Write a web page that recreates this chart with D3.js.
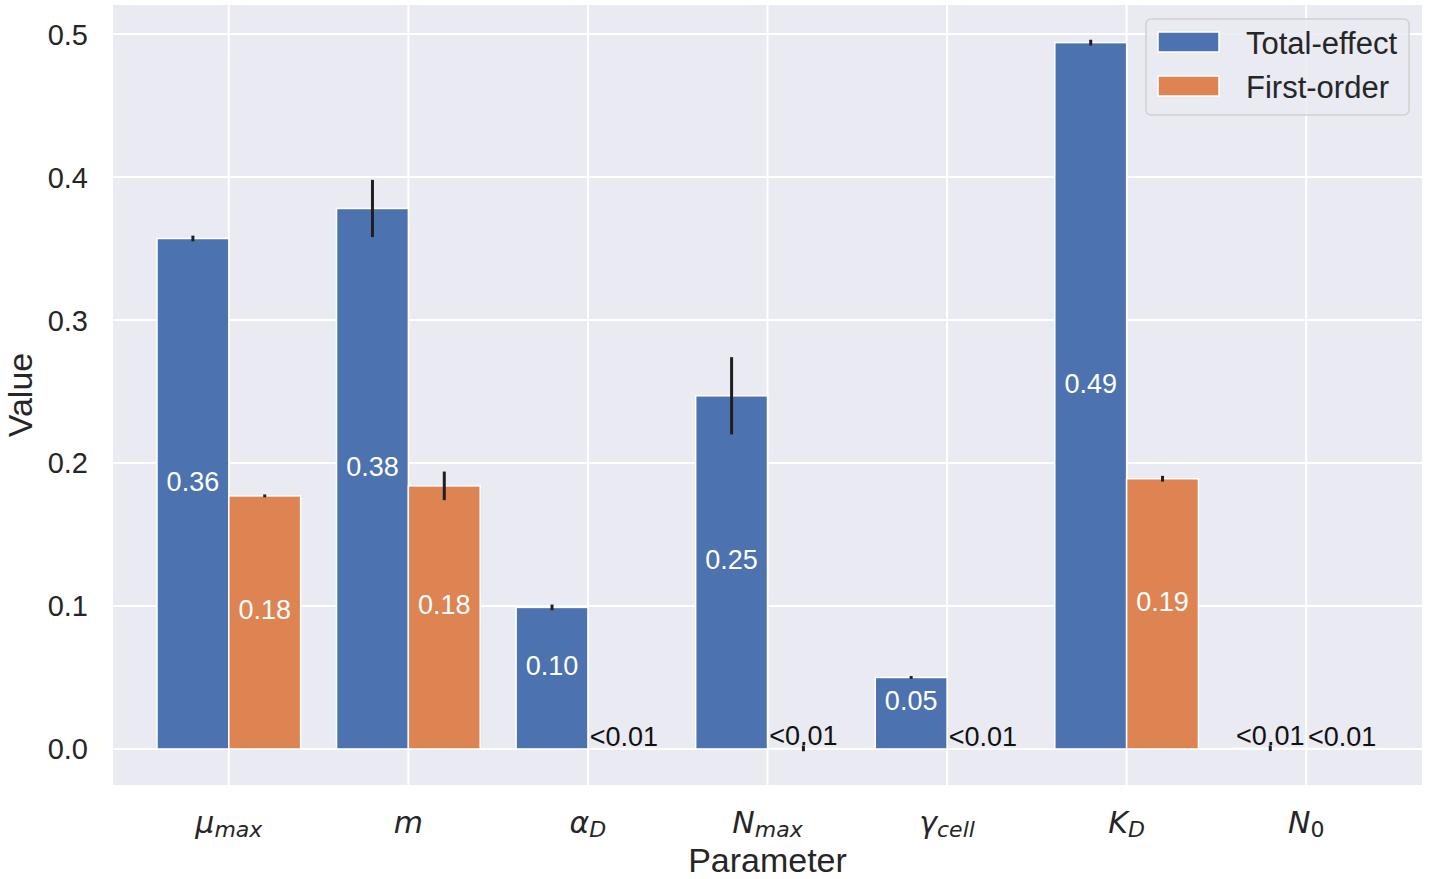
<!DOCTYPE html>
<html>
<head>
<meta charset="utf-8">
<script src="https://cdn.jsdelivr.net/npm/d3@7"></script>
<style>
  body { margin: 0; background: #fff; }
  svg text { font-family: "Liberation Sans", Arial, sans-serif; }
  .math { font-family: "DejaVu Sans", sans-serif; font-style: italic; }
</style>
</head>
<body>
<div id="chart"></div>
<script>
// parameter labels: main symbol + subscript
const params = [
  { main: "μ", sub: "max" },
  { main: "m", sub: "" },
  { main: "α", sub: "D" },
  { main: "N", sub: "max" },
  { main: "γ", sub: "cell" },
  { main: "K", sub: "D" },
  { main: "N", sub: "0", upright: true },
];
const totalEffect = [0.357, 0.378, 0.099, 0.247, 0.050, 0.494, 0.0005];
const totalErr = [0.002, 0.020, 0.002, 0.027, 0.001, 0.002, 0.002];
const firstOrder = [0.177, 0.184, 0.0003, 0.0004, 0.0002, 0.189, 0.0003];
const firstErr = [0.001, 0.010, 0, 0.002, 0, 0.002, 0];
const yTicks = [0, 0.1, 0.2, 0.3, 0.4, 0.5];
const seriesNames = ["Total-effect", "First-order"];
const colors = ["#4C72B0", "#DD8452"];

const W = 1429, H = 879;
const plot = { left: 113, right: 1422, top: 5, bottom: 785 };
const barW = 0.4;

const svg = d3.select("#chart").append("svg")
  .attr("width", W).attr("height", H);

const x = d3.scaleLinear().domain([-0.645, 6.645]).range([plot.left, plot.right]);
const y = d3.scaleLinear().domain([-0.0252, 0.5203]).range([plot.bottom, plot.top]);

// background
svg.append("rect")
  .attr("x", plot.left).attr("y", plot.top)
  .attr("width", plot.right - plot.left).attr("height", plot.bottom - plot.top)
  .attr("fill", "#EAEAF2");

// grid
svg.append("g").selectAll("line").data(yTicks).join("line")
  .attr("x1", plot.left).attr("x2", plot.right)
  .attr("y1", (d) => y(d)).attr("y2", (d) => y(d))
  .attr("stroke", "#fff").attr("stroke-width", 2);
svg.append("g").selectAll("line").data(params).join("line")
  .attr("x1", (d, i) => x(i)).attr("x2", (d, i) => x(i))
  .attr("y1", plot.top).attr("y2", plot.bottom)
  .attr("stroke", "#fff").attr("stroke-width", 2);

// y tick labels
svg.append("g").selectAll("text").data(yTicks).join("text")
  .attr("x", 88).attr("y", (d) => y(d) + 10.5)
  .attr("text-anchor", "end")
  .attr("font-size", 29).attr("fill", "#262626")
  .text((d) => d.toFixed(1));

// bars
const series = [
  { vals: totalEffect, err: totalErr, off: -barW },
  { vals: firstOrder, err: firstErr, off: 0 },
];
series.forEach((s, si) => {
  const rows = s.vals.map((v, i) => ({ v, e: s.err[i], cx: i + s.off + barW / 2 }));
  const g = svg.append("g");
  g.selectAll("rect").data(rows).join("rect")
    .attr("x", (d) => x(d.cx - barW / 2))
    .attr("width", x(barW) - x(0))
    .attr("y", (d) => y(d.v))
    .attr("height", (d) => y(0) - y(d.v))
    .attr("fill", colors[si])
    .attr("stroke", "#fff").attr("stroke-width", 1.5);
  g.selectAll("line").data(rows.filter((d) => d.e > 0)).join("line")
    .attr("x1", (d) => x(d.cx)).attr("x2", (d) => x(d.cx))
    .attr("y1", (d) => y(d.v - d.e))
    .attr("y2", (d) => y(d.v + d.e))
    .attr("stroke", "#1f1f1f").attr("stroke-width", 3);
  g.selectAll("text").data(rows).join("text")
    .attr("x", (d) => x(d.cx))
    .attr("y", (d) => d.v >= 0.01 ? y(d.v / 2) - 3 : y(d.v) - 3)
    .attr("text-anchor", "middle")
    .attr("font-size", 27)
    .attr("fill", (d) => d.v >= 0.01 ? "#fff" : "#111")
    .text((d) => d.v >= 0.01 ? d.v.toFixed(2) : "<0.01");
});

// x tick labels
const xl = svg.append("g").selectAll("text").data(params).join("text")
  .attr("class", "math")
  .attr("x", (d, i) => x(i)).attr("y", 833)
  .attr("text-anchor", "middle")
  .attr("fill", "#262626");
xl.append("tspan").attr("font-size", 30).text((d) => d.main);
xl.append("tspan").attr("font-size", 22).attr("dy", 4)
  .attr("font-style", (d) => d.upright ? "normal" : "italic")
  .text((d) => d.sub);

// axis titles
svg.append("text")
  .attr("x", (plot.left + plot.right) / 2).attr("y", 872)
  .attr("text-anchor", "middle").attr("font-size", 34).attr("fill", "#262626")
  .text("Parameter");
svg.append("text")
  .attr("transform", `translate(32,${(plot.top + plot.bottom) / 2}) rotate(-90)`)
  .attr("text-anchor", "middle").attr("font-size", 34).attr("fill", "#262626")
  .text("Value");

// legend
const lg = svg.append("g").attr("transform", "translate(1146,19)");
lg.append("rect")
  .attr("width", 263).attr("height", 96).attr("rx", 5)
  .attr("fill", "#EAEAF2").attr("fill-opacity", 0.85)
  .attr("stroke", "#cfcfd6").attr("stroke-width", 1.5);
seriesNames.forEach((name, i) => {
  lg.append("rect")
    .attr("x", 12).attr("y", 13 + i * 44)
    .attr("width", 61).attr("height", 20)
    .attr("fill", colors[i]).attr("stroke", "#fff").attr("stroke-width", 1.5);
  lg.append("text")
    .attr("x", 100).attr("y", 35 + i * 44)
    .attr("font-size", 31).attr("fill", "#262626")
    .text(name);
});
</script>
</body>
</html>
